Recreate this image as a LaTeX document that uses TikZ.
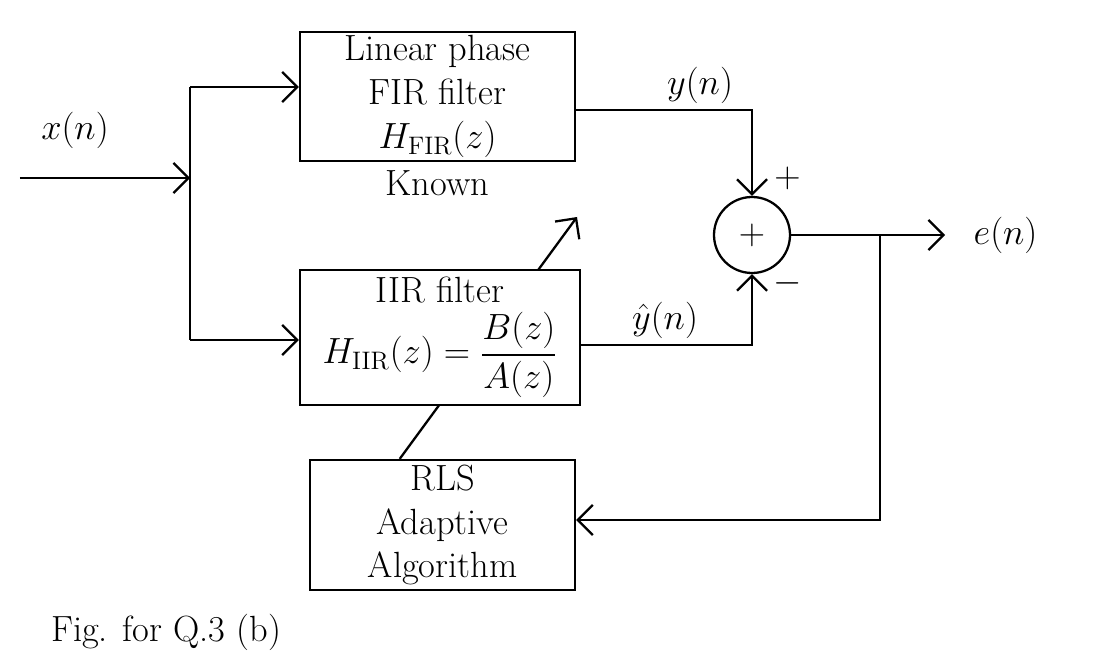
\documentclass[tikz,border=0pt]{standalone}
\usepackage{amsmath}
\usetikzlibrary{arrows.meta, positioning, calc}

\begin{document}
\begin{tikzpicture}[
  block/.style={rectangle, draw, line width=1.3pt, fill=white, minimum width=5.5cm, minimum height=2.5cm, inner sep=2pt, align=center, font=\huge},
  adder/.style={circle, draw, line width=1.3pt, minimum size=1.52cm, inner sep=0pt, font=\huge},
  lbl/.style={font=\huge},
  wire/.style={line width=1.3pt},
  sig/.style={-{Straight Barb[length=3mm, width=6mm]}, line width=1.3pt}
]
\useasboundingbox (0,0) rectangle (21.94,-13.14);

% Input and split point.
\coordinate (xin) at (0.4,-3.56);
\coordinate (split) at (3.8,-3.56);
\coordinate (splitT) at (3.8,-1.74);
\coordinate (splitB) at (3.8,-6.8);
\node[lbl] (xlbl) at (1.5,-2.6) {$x(n)$};

% Filter blocks.
\node[block] (FIR) at (8.75,-1.93) {Linear phase\\FIR filter\\$H_{\mathrm{FIR}}(z)$};
\node[lbl, below=1pt of FIR] (known) {Known};
\node[block, minimum width=5.3cm, minimum height=2.6cm] (RLS) at (8.85,-10.5) {RLS\\Adaptive\\Algorithm};

% Adaptation arrow goes under the IIR block.
\coordinate (adaptE) at (11.54,-4.34);
\draw[sig] ($(RLS.north west)!0.34!(RLS.north east)$) -- (adaptE);
\node[block, minimum width=5.6cm, minimum height=2.7cm] (IIR) at (8.8,-6.75) {IIR filter\\[4pt]$H_{\mathrm{IIR}}(z)=\dfrac{B(z)}{A(z)}$};

% Summing junction and output.
\node[adder] (sum) at (15.04,-4.7) {$+$};
\coordinate (ycorner) at (15.04,-2.2);
\coordinate (yhcorner) at (15.04,-6.9);
\coordinate (eout) at (18.9,-4.7);
\coordinate (fb) at (17.6,-4.7);
\coordinate (fbB) at (17.6,-10.4);
\node[lbl] (ylbl) at (14,-1.7) {$y(n)$};
\node[lbl] (yhlbl) at (13.3,-6.4) {$\hat{y}(n)$};
\node[lbl] (plus) at (15.75,-3.56) {$+$};
\node[lbl] (minus) at (15.75,-5.66) {$-$};
\node[lbl, right=0.45cm of eout] (elbl) {$e(n)$};

% Connections.
\draw[sig] (xin) -- (split);
\draw[wire] (splitT) -- (splitB);
\draw[sig] (splitT) -- (splitT -| FIR.west);
\draw[sig] (splitB) -- (splitB -| IIR.west);
\draw[sig] (FIR.east |- ycorner) -- (ycorner) -- (sum.north);
\draw[sig] (IIR.east |- yhcorner) -- (yhcorner) -- (sum.south);
\draw[sig] (sum.east) -- (eout);
\draw[sig] (fb) -- (fbB) -- (fbB -| RLS.east);

% Caption.
\node[lbl, anchor=west] (caption) at (0.9,-12.64) {Fig. for Q.3 (b)};

\end{tikzpicture}
\end{document}
